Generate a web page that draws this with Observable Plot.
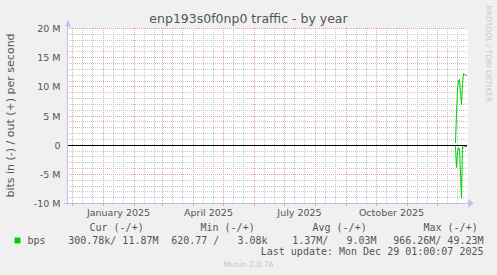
<!DOCTYPE html>
<html>
<head>
<meta charset="utf-8">
<script src="https://cdn.jsdelivr.net/npm/d3@7"></script>
<script src="https://cdn.jsdelivr.net/npm/@observablehq/plot@0.6"></script>
<style>
  html, body { margin: 0; padding: 0; background: #f0f0f0; }
  #chart svg text { white-space: pre; }
</style>
</head>
<body>
<div id="chart"></div>
<script>
// ---- data ----
const title = "enp193s0f0np0 traffic - by year";
const yLabel = "bits in (-) / out (+) per second";
const sideText = "RRDTOOL / TOBI OETIKER";
const dates = ["2025-12-19","2025-12-20","2025-12-21","2025-12-22","2025-12-23","2025-12-24",
               "2025-12-25","2025-12-26","2025-12-27","2025-12-28","2025-12-29","2025-12-30"];
const outM = [0.5, 5.5, 9.3, 11.1, 11.3, 9.0, 7.0, 10.6, 12.3, 12.2, 12.1, 12.0];
const inM  = [-0.2, -3.8, -1.2, -0.4, -0.5, -5.0, -9.1, -0.3, -0.4, -0.3, -0.3, -0.3];
const yTicks = [-10e6, -5e6, 0, 5e6, 10e6, 15e6, 20e6];
const xLabelDates = ["2025-01-16","2025-04-16","2025-07-16","2025-10-16"];
const legendHeaders = ["Cur (-/+)", "Min (-/+)", "Avg (-/+)", "Max (-/+)"];
const legendValues = ["300.78k/ 11.87M", "620.77 /   3.08k", "1.37M/   9.03M", "966.26M/ 49.23M"];
const seriesName = "bps";
const lastUpdate = "Last update: Mon Dec 29 01:00:07 2025";
const footer = "Munin 2.0.76";

// ---- derived ----
const start = new Date(Date.UTC(2024, 10, 26));
const end = new Date(Date.UTC(2025, 11, 31));
const day = (d, n) => new Date(+d + n * 864e5);
const parse = d3.utcParse("%Y-%m-%d");
const outData = dates.map((d, i) => ({date: parse(d), v: outM[i] * 1e6}));
const inData = dates.map((d, i) => ({date: parse(d), v: inM[i] * 1e6}));
const months = d3.utcMonths(start, end);
const minorX = [];
for (const m of d3.utcMonths(d3.utcMonth.floor(start), end)) {
  for (const dd of [11, 21]) {
    const d = new Date(Date.UTC(m.getUTCFullYear(), m.getUTCMonth(), dd));
    if (d > start && d < end) minorX.push(d);
  }
}
const minorY = d3.range(-10e6, 20e6 + 1, 1e6).filter(v => v % 5e6 !== 0);
const majorY = yTicks;
const axisColor = "#b9c2f3";
const gridGray = "#c6c6c6";
const gridRed = "#e8a4a4";
const txt = "#555";

// arrow heads as small filled triangles (vertices in data space)
const arrowTop = [[day(start, -2.5), 20.35e6], [day(start, 2.5), 20.35e6], [start, 21.5e6]];
const arrowRight = [[day(end, 0.5), -10.75e6], [day(end, 0.5), -9.25e6], [day(end, 6), -10e6]];

const fx = 67, fy = 28; // frame top-left
const T = (s, x, y, o = {}) => Plot.text([s], {
  text: d => d, frameAnchor: "top-left", dx: x - fx, dy: y - fy,
  lineAnchor: "middle", fill: txt, ...o
});

const chart = Plot.plot({
  width: 497, height: 275,
  marginLeft: 67, marginRight: 30, marginTop: 28, marginBottom: 72,
  style: "background:#f0f0f0;font-family:'DejaVu Sans';",
  x: {type: "utc", domain: [start, end], label: null, round: true},
  y: {domain: [-10e6, 20e6], label: null, round: true},
  marks: [
    Plot.frame({fill: "white", stroke: "none"}),
    Plot.gridY(minorY, {stroke: gridGray, strokeOpacity: 1, strokeDasharray: "1,1"}),
    Plot.gridX(minorX, {stroke: gridGray, strokeOpacity: 1, strokeDasharray: "1,1"}),
    Plot.gridY(majorY, {stroke: gridRed, strokeOpacity: 1, strokeDasharray: "1,1"}),
    Plot.gridX(months, {stroke: gridRed, strokeOpacity: 1, strokeDasharray: "1,1"}),
    Plot.ruleX(months, {x: d => d, y1: -10e6, y2: -10.55e6, stroke: gridRed}),
    Plot.axisY(yTicks, {tickSize: 0, tickPadding: 7, fontSize: 9.5, fill: txt, label: null,
      tickFormat: d => d === 0 ? "0" : `${d / 1e6} M`}),
    Plot.axisX(xLabelDates.map(parse), {tickSize: 0, tickPadding: 6, fontSize: 9.5, fill: txt, label: null,
      tickFormat: d3.utcFormat("%B %Y")}),
    Plot.ruleY([0], {stroke: "black", strokeWidth: 1}),
    Plot.ruleX([start], {x: d => d, y1: -10.4e6, y2: 20.6e6, stroke: axisColor, strokeWidth: 1}),
    Plot.ruleY([-10e6], {y: d => d, x1: day(start, -3), x2: day(end, 2), stroke: axisColor, strokeWidth: 1}),
    Plot.line(arrowTop, {x: "0", y: "1", fill: axisColor, stroke: axisColor, strokeWidth: 0.5}),
    Plot.line(arrowRight, {x: "0", y: "1", fill: axisColor, stroke: axisColor, strokeWidth: 0.5}),
    Plot.line(outData, {x: "date", y: "v", stroke: "#00cc00", strokeWidth: 1}),
    Plot.line(inData, {x: "date", y: "v", stroke: "#00cc00", strokeWidth: 1}),
    // texts
    T(title, 248, 18.6, {textAnchor: "middle", fontSize: 12.5}),
    T(yLabel, 10, 115, {rotate: -90, textAnchor: "middle", fontSize: 11}),
    T(sideText, 487.5, 5, {rotate: 90, textAnchor: "start", fontSize: 7.5, fill: "#c8c8c8"}),
    ...legendHeaders.map((h, i) => T(h, [89, 200, 312, 423][i], 227.4,
      {textAnchor: "start", fontFamily: "DejaVu Sans Mono", fontSize: 10})),
    Plot.dot([seriesName], {frameAnchor: "top-left", dx: 17 - fx, dy: 240 - fy,
      symbol: "square", r: 3.3, fill: "#00cc00", stroke: "none"}),
    T(seriesName, 27, 240.4, {textAnchor: "start", fontFamily: "DejaVu Sans Mono", fontSize: 10}),
    ...legendValues.map((v, i) => T(v, [158, 267, 376, 483][i], 240.4,
      {textAnchor: "end", fontFamily: "DejaVu Sans Mono", fontSize: 10})),
    T(lastUpdate, 483, 251.6, {textAnchor: "end", fontFamily: "DejaVu Sans Mono", fontSize: 10}),
    T(footer, 248, 263.9, {textAnchor: "middle", fontSize: 7.6, fill: "#c4c4c4"})
  ]
});
document.getElementById("chart").append(chart);
</script>
</body>
</html>
